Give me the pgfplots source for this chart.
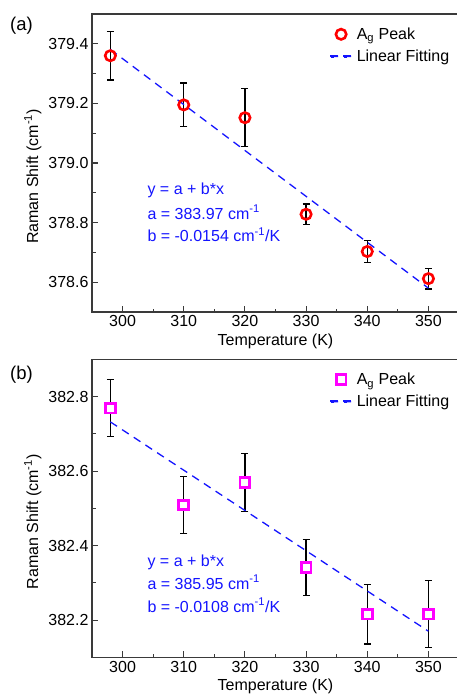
\documentclass[border=0pt]{standalone}
\usepackage{pgfplots}
\pgfplotsset{compat=1.18}
\usepackage{fontspec}
\setmainfont{Liberation Sans}
\definecolor{axgray}{HTML}{3A3A3A}
\definecolor{fitblue}{HTML}{1414FF}
\definecolor{myred}{HTML}{FF0000}
\definecolor{mymag}{HTML}{FF00FF}
\pgfplotsset{
  myax/.style={
    scale only axis, width=367pt, height=298pt,
    xmin=295, xmax=355,
    xtick={300,310,320,330,340,350}, minor x tick num=1,
    minor y tick num=1,
    tick pos=left, tick align=inside,
    major tick length=6pt, minor tick length=3.5pt,
    every tick/.style={axgray, line width=1.1pt},
    axis line style={axgray, line width=1.1pt},
    tick label style={font=\fontsize{16}{19}\selectfont},
    label style={font=\fontsize{16}{19}\selectfont},
    /pgf/number format/assume math mode=true,
    yticklabel style={/pgf/number format/.cd, fixed, fixed zerofill, precision=1},
    xticklabel style={/pgf/number format/.cd, fixed, precision=0},
    xlabel={Temperature (K)},
    ylabel={Raman Shift (cm\textsuperscript{-1})},
    ylabel style={at={(ticklabel cs:0.455)}},
    legend style={draw=none, fill=none, font=\fontsize{16}{19}\selectfont, row sep=5pt,
      at={(rel axis cs:0.641,0.968)}, anchor=north west,
      nodes={inner xsep=5pt}},
    legend cell align=left,
  },
  ebar/.style={draw=none, mark=none, forget plot,
    error bars/.cd, y dir=both, y explicit,
    error bar style={draw=black, line width=1.3pt, solid},
    error mark options={draw=black, line width=1.3pt, mark size=3.5pt, solid, rotate=90}},
  fit/.style={color=fitblue, line width=1.3pt, dash pattern=on 8pt off 6pt,
    legend image code/.code={\fill[color=fitblue] (0pt,-0.65pt) rectangle (7pt,0.65pt) (13pt,-0.65pt) rectangle (20pt,0.65pt);}},
  markleg/.style={legend image code/.code={\draw[##1] plot coordinates {(10pt,0pt)};}},
}
\begin{document}
\begin{tikzpicture}
\useasboundingbox (0,0) rectangle (457pt,-698pt);
\node[anchor=base west, inner sep=0pt, font=\fontsize{18.5}{22}\selectfont] at (10pt,-31pt) {(a)};
\node[anchor=base west, inner sep=0pt, font=\fontsize{18.5}{22}\selectfont] at (10pt,-379pt) {(b)};
\begin{axis}[myax, at={(92pt,-312pt)}, anchor=south west,
  ymin=378.5, ymax=379.5, ytick={378.6,378.8,379.0,379.2,379.4}]
\addplot[ebar] table[x=x, y=y, y error=e] {
x y e
298 379.360 0.082
310 379.195 0.073
320 379.152 0.097
330 378.828 0.034
340 378.703 0.038
350 378.612 0.035
};
\addplot[only marks, mark=o, mark size=5.2pt, draw=myred, line width=2.6pt, markleg] table[x=x, y=y] {
x y
298 379.360
310 379.195
320 379.152
330 378.828
340 378.703
350 378.612
};
\addlegendentry{A\textsubscript{g} Peak}
\addplot[fit] table {
298 379.381
350 378.580
};
\addlegendentry{Linear Fitting}
\node[anchor=base west, fitblue, font=\fontsize{16}{19}\selectfont] at (rel axis cs:0.1417,0.393) {y = a + b*x};
\node[anchor=base west, fitblue, font=\fontsize{16}{19}\selectfont] at (rel axis cs:0.1417,0.312) {a = 383.97 cm\textsuperscript{-1}};
\node[anchor=base west, fitblue, font=\fontsize{16}{19}\selectfont] at (rel axis cs:0.1417,0.235) {b = -0.0154 cm\textsuperscript{-1}/K};
\end{axis}
\begin{axis}[myax, at={(92pt,-657.3pt)}, anchor=south west,
  ymin=382.1, ymax=382.9, ytick={382.2,382.4,382.6,382.8}]
\addplot[ebar] table[x=x, y=y, y error=e] {
x y e
298 382.769 0.076
310 382.509 0.076
320 382.569 0.078
330 382.341 0.075
340 382.216 0.080
350 382.216 0.090
};
\addplot[only marks, mark=square*, mark size=4.9pt, color=mymag, mark options={fill=white}, line width=2.9pt, markleg] table[x=x, y=y] {
x y
298 382.769
310 382.509
320 382.569
330 382.341
340 382.216
350 382.216
};
\addlegendentry{A\textsubscript{g} Peak}
\addplot[fit] table {
298 382.732
350 382.170
};
\addlegendentry{Linear Fitting}
\node[anchor=base west, fitblue, font=\fontsize{16}{19}\selectfont] at (rel axis cs:0.1417,0.306) {y = a + b*x};
\node[anchor=base west, fitblue, font=\fontsize{16}{19}\selectfont] at (rel axis cs:0.1417,0.229) {a = 385.95 cm\textsuperscript{-1}};
\node[anchor=base west, fitblue, font=\fontsize{16}{19}\selectfont] at (rel axis cs:0.1417,0.152) {b = -0.0108 cm\textsuperscript{-1}/K};
\end{axis}
\end{tikzpicture}
\end{document}
